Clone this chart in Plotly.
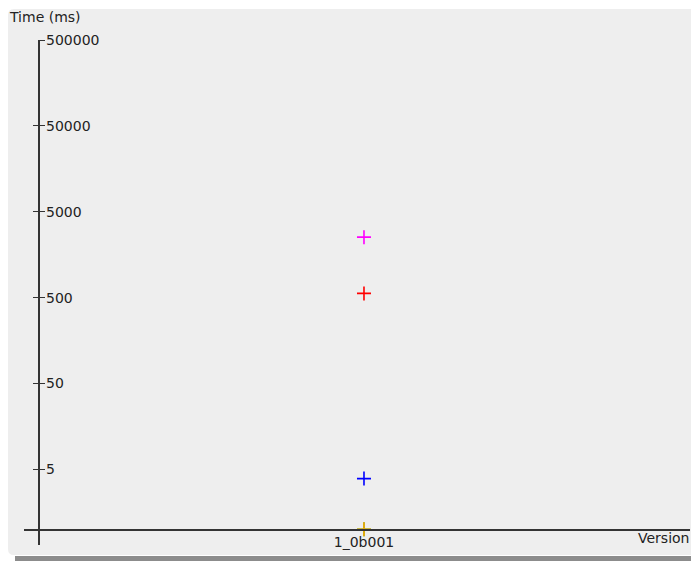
import plotly.graph_objects as go
import math

# ---- data ----
versions = ["1_0b001"]
series_names = ["s_magenta", "s_red", "s_blue", "s_green", "s_orange"]
series_colors = ["#ff00ff", "#ff0000", "#0000ff", "#2ca02c", "#ffaa00"]
series_values = [2530, 560, 3.9, 1.0, 1.0]
tick_values = [5, 50, 500, 5000, 50000, 500000]
tick_labels = ["5", "50", "500", "5000", "50000", "500000"]

# page has an 8px body margin, so the figure is placed at (8, 8)
OFF = 8
W, H = 699 - OFF, 561 - OFF
L, R, T, B = 24 - OFF, 699 - 690, 40 - OFF, 561 - 545
pw, ph = W - L - R, H - T - B

def px(x):  # x in reference page pixels
    return (x - OFF - L) / pw

def py(y):  # y in reference page pixels
    return (H - B - (y - OFF)) / ph

FONT = dict(family="DejaVu Sans", size=14, color="#222222")
AXC = "#333333"
yrange = [-0.182, math.log10(500000)]

fig = go.Figure()
for name, col, val in zip(series_names, series_colors, series_values):
    fig.add_trace(go.Scatter(
        x=versions, y=[val], mode="markers", name=name,
        marker=dict(symbol="cross-thin", size=10, line=dict(color=col, width=1.6)),
        cliponaxis=False, showlegend=False,
    ))
# helper trace for the second (left-tick) y axis
fig.add_trace(go.Scatter(x=versions, y=[series_values[0]], yaxis="y2", mode="markers",
                         marker=dict(opacity=0), hoverinfo="skip", showlegend=False))

# rounded panel background
x0, x1, y0, y1 = px(8), px(697), py(555), py(9)
rx, ry = 6 / pw, 6 / ph
panel = (f"M {x0+rx},{y1} L {x1},{y1} L {x1},{y0} L {x0+rx},{y0} "
         f"Q {x0},{y0} {x0},{y0+ry} L {x0},{y1-ry} Q {x0},{y1} {x0+rx},{y1} Z")

fig.update_layout(
    width=W, height=H,
    margin=dict(l=L, r=R, t=T, b=B),
    paper_bgcolor="white", plot_bgcolor="rgba(0,0,0,0)",
    font=FONT,
    shapes=[
        dict(type="rect", xref="paper", yref="paper", x0=px(15), x1=px(699),
             y0=py(561), y1=py(556), fillcolor="#8c8c8c", line_width=0, layer="below"),
        dict(type="path", xref="paper", yref="paper", path=panel,
             fillcolor="#eeeeee", line_width=0, layer="below"),
    ],
    xaxis=dict(
        type="category", range=[-0.5105, 0.4895],
        anchor="free", position=py(529.5),
        showline=True, linecolor=AXC, linewidth=1.5,
        ticks="", showgrid=False, zeroline=False, tickfont=FONT,
    ),
    yaxis=dict(
        type="log", range=yrange,
        anchor="free", position=px(38.5), side="right",
        showline=True, linecolor=AXC, linewidth=1.5,
        ticks="outside", ticklen=6, tickwidth=1.2, tickcolor=AXC,
        tickvals=tick_values, ticktext=tick_labels, ticklabelstandoff=-2,
        showgrid=False, zeroline=False, tickfont=FONT,
    ),
    yaxis2=dict(
        type="log", range=yrange, overlaying="y",
        anchor="free", position=px(38.5), side="right",
        showline=False, ticks="inside", ticklen=6, tickwidth=1.2, tickcolor=AXC,
        tickvals=tick_values, showticklabels=False, showgrid=False, zeroline=False,
    ),
    annotations=[
        dict(text="Time (ms)", xref="paper", yref="paper", x=px(7), y=py(17),
             xanchor="left", yanchor="middle", showarrow=False, font=FONT),
        dict(text="Version", xref="paper", yref="paper", x=px(691), y=py(538),
             xanchor="right", yanchor="middle", showarrow=False, font=FONT),
    ],
)

fig.write_html("out.html")
